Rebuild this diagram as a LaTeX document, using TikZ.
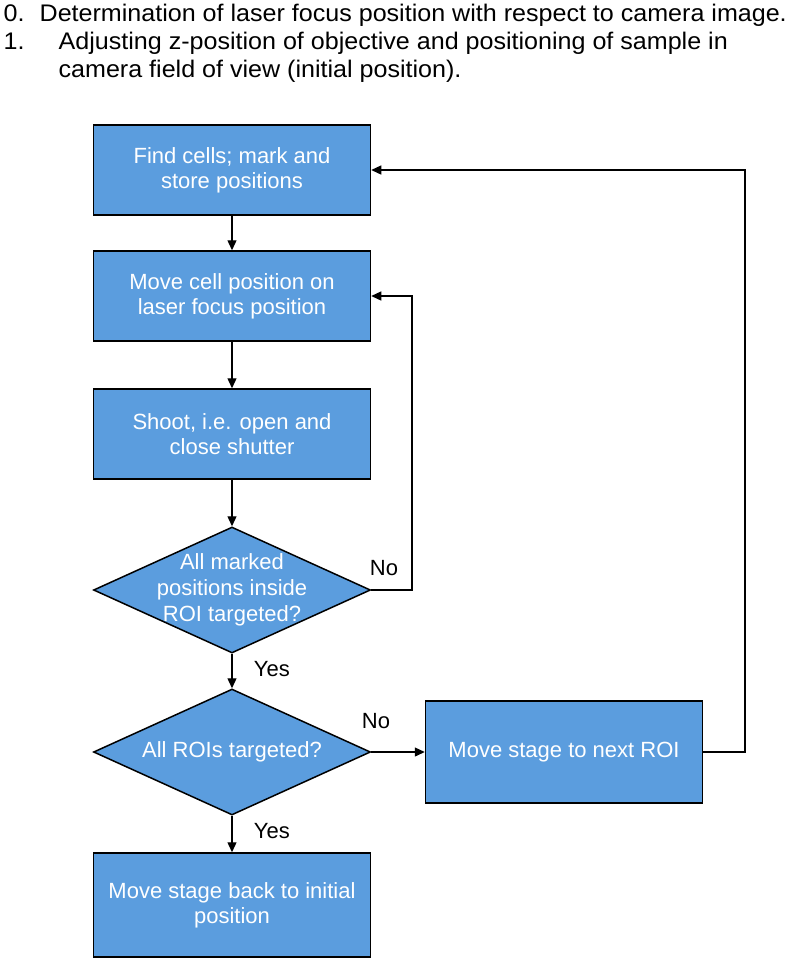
\documentclass[tikz,border=0pt]{standalone}
\usepackage{fontspec}
\setmainfont{Liberation Sans}
\newfontfamily\listfont[FakeStretch=1.045]{Liberation Sans}
\usetikzlibrary{shapes.geometric,arrows.meta}

\definecolor{cellblue}{RGB}{91,157,222}

\tikzset{
  block/.style={rectangle, draw=black, line width=1.5pt, fill=cellblue, text=white,
    minimum width=277pt, minimum height=90pt, align=center,
    font=\fontsize{22}{25}\selectfont},
  decision/.style={diamond, draw=black, line width=1.5pt, fill=cellblue,
    minimum width=277pt, minimum height=126pt, inner sep=0pt},
  dtext/.style={text=white, align=center, font=\fontsize{22}{26}\selectfont},
  answer/.style={font=\fontsize{22}{26}\selectfont},
  listtext/.style={anchor=base west, inner sep=0pt, font=\listfont\fontsize{24}{28}\selectfont}
}

\begin{document}
\begin{tikzpicture}[x=1pt, y=-1pt, >={Triangle[length=10pt,width=9pt]}, line width=1.3pt]
\useasboundingbox (0,0) rectangle (787,961);

% list above the chart
\node[listtext] (num0) at (3,21) {0.};
\node[listtext] (item0) at (39,21) {Determination of laser focus position with respect to camera image.};
\node[listtext] (num1) at (3,49) {1.};
\node[listtext] (item1) at (58,49) {Adjusting z-position of objective and positioning of sample in};
\node[listtext] (item1b) at (58,77) {camera field of view (initial position).};

% chart
\node[block] (find) at (232,170) {Find cells; mark and\\store positions};
\node[block] (move) at (232,296) {Move cell position on\\laser focus position};
\node[block] (shoot) at (232,434) {Shoot, i.e. open and\\close shutter};
\node[decision, label={[dtext]center:All marked\\positions inside\\ROI targeted?}] (allpos) at (232,590) {};
\node[decision, label={[dtext]center:All ROIs targeted?}] (allroi) at (232,752) {};
\node[block, minimum height=102pt] (nextroi) at (564,752) {Move stage to next ROI};
\node[block, minimum height=104pt] (back) at (232,905) {Move stage back to initial\\position};

\coordinate (c1) at (412,590);
\coordinate (c2) at (745,752);

\node[answer, anchor=base west] (no1) at (366,575) {No};
\node[answer, anchor=base west] (yes1) at (250,676) {Yes};
\node[answer, anchor=base west] (no2) at (358,728) {No};
\node[answer, anchor=base west] (yes2) at (250,838) {Yes};

\draw[->] (find)--(move);
\draw[->] (move)--(shoot);
\draw[->] (shoot)--(allpos);
\draw[->] (allpos)--(allroi);
\draw[->] (allroi)--(back);
\draw[->] (allroi.east)--(nextroi.west);
\draw[->] (allpos.east)--(c1) |- (move.east);
\draw[->] (nextroi.east)--(c2) |- (find.east);
\end{tikzpicture}
\end{document}
